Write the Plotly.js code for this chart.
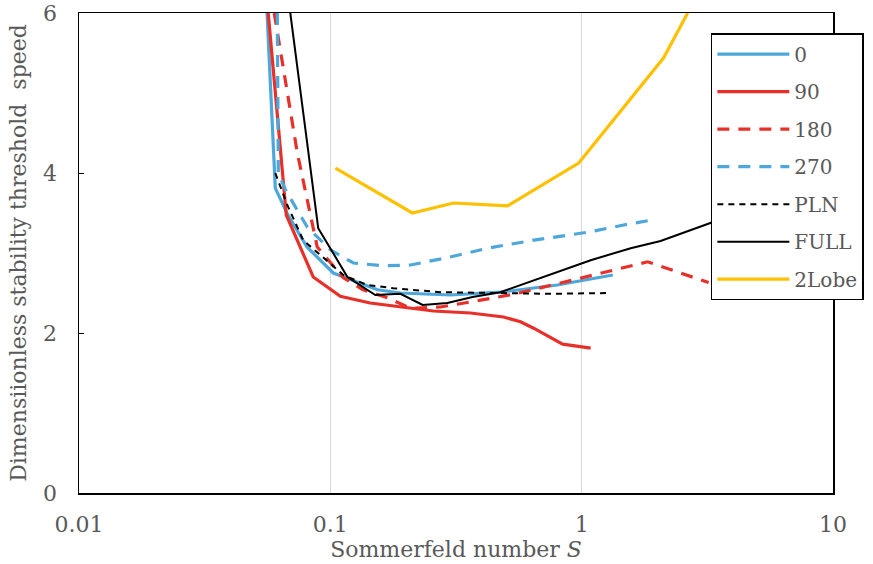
<!DOCTYPE html>
<html>
<head>
<meta charset="utf-8">
<script src="https://cdn.plot.ly/plotly-3.0.1.min.js"></script>
<style>html,body{margin:0;padding:0;background:#fff;}#chart{width:873px;height:564px;}</style>
</head>
<body>
<div id="chart"></div>
<script>
// Series names
var seriesNames = ["0", "90", "180", "270", "PLN", "FULL", "2Lobe"];

// Series "0"
var s0_x = [0.056, 0.0604, 0.0672, 0.0807, 0.1028, 0.132, 0.154, 0.19, 0.30, 0.475, 0.80, 1.33];
var s0_y = [6.0, 3.81, 3.5, 3.075, 2.75, 2.625, 2.54, 2.5, 2.475, 2.51, 2.6, 2.725];

// Series "90"
var s90_x = [0.0566, 0.0668, 0.0855, 0.1096, 0.144, 0.19, 0.257, 0.361, 0.489, 0.571, 0.644, 0.84, 1.086];
var s90_y = [6.0, 3.475, 2.7, 2.46, 2.375, 2.325, 2.275, 2.25, 2.2, 2.14, 2.06, 1.86, 1.81];

// Series "180"
var s180_x = [0.0598, 0.0739, 0.0887, 0.1127, 0.135, 0.1686, 0.2085, 0.274, 0.396, 0.546, 0.824, 1.457, 1.83, 3.2];
var s180_y = [6.0, 4.25, 3.075, 2.69, 2.54, 2.44, 2.31, 2.325, 2.41, 2.49, 2.625, 2.81, 2.89, 2.63];

// Series "270"
var s270_x = [0.0615, 0.0621, 0.0663, 0.0809, 0.1, 0.1236, 0.1626, 0.2085, 0.30, 0.4217, 0.644, 1.057, 1.47, 1.88];
var s270_y = [6.0, 4.0, 3.79, 3.325, 3.04, 2.875, 2.84, 2.85, 2.95, 3.06, 3.16, 3.26, 3.35, 3.41];

// Series "PLN"
var sPLN_x = [0.0604, 0.0674, 0.078, 0.0929, 0.1127, 0.140, 0.178, 0.274, 0.42, 0.751, 1.305];
var sPLN_y = [4.0, 3.6, 3.16, 2.95, 2.725, 2.6, 2.56, 2.51, 2.5, 2.49, 2.5];

// Series "FULL"
var sFULL_x = [0.0693, 0.0895, 0.117, 0.151, 0.19, 0.233, 0.292, 0.368, 0.475, 0.644, 0.879, 1.086, 1.567, 2.06, 3.42];
var sFULL_y = [6.0, 3.31, 2.7, 2.475, 2.49, 2.35, 2.375, 2.45, 2.51, 2.66, 2.81, 2.91, 3.06, 3.15, 3.4];

// Series "2Lobe"
var s2L_x = [0.1048, 0.212, 0.309, 0.507, 0.973, 2.12, 2.64];
var s2L_y = [4.06, 3.5, 3.625, 3.59, 4.125, 5.44, 6.0];

// Axis ticks
var xTickVals = [0.01, 0.1, 1, 10];
var xTickText = ["0.01", "0.1", "1", "10"];
var yTickVals = [0, 2, 4, 6];
var yTickText = ["0", "2", "4", "6"];

var BLUE = "#4DA7DA", RED = "#E8302A", YEL = "#FFC000", BLK = "#000000";
var FONT = "'DejaVu Serif', serif";
var TXT = "#595959";

function tr(name, x, y, color, width, dash) {
  return {
    type: "scatter", mode: "lines", name: name, x: x, y: y,
    legendgroup: name,
    line: {color: color, width: width, dash: dash}
  };
}

var data = [
  tr(seriesNames[0], s0_x, s0_y, BLUE, 3.2, "solid"),
  tr(seriesNames[1], s90_x, s90_y, RED, 3.2, "solid"),
  tr(seriesNames[2], s180_x, s180_y, RED, 3.2, "12px,9px"),
  tr(seriesNames[3], s270_x, s270_y, BLUE, 3.2, "12px,9px"),
  tr(seriesNames[4], sPLN_x, sPLN_y, BLK, 2, "6px,5px"),
  tr(seriesNames[5], sFULL_x, sFULL_y, BLK, 2, "solid"),
  tr(seriesNames[6], s2L_x, s2L_y, YEL, 3.2, "solid")
];

var layout = {
  width: 873, height: 564,
  margin: {l: 79, r: 40, t: 13, b: 71, pad: 0, autoexpand: false},
  paper_bgcolor: "#ffffff", plot_bgcolor: "#ffffff",
  font: {family: FONT, size: 21, color: TXT},
  showlegend: true,
  legend: {
    x: 0.838, y: 0.958, xanchor: "left", yanchor: "top",
    bgcolor: "#ffffff", bordercolor: "#000000", borderwidth: 1.5,
    font: {family: FONT, size: 20, color: TXT},
    tracegroupgap: 8.5, itemwidth: 72
  },
  xaxis: {
    type: "log", range: [-2, 1],
    tickvals: xTickVals, ticktext: xTickText,
    showgrid: true, gridcolor: "#D9D9D9", gridwidth: 1,
    ticks: "", showline: true, linecolor: "#000000", linewidth: 1.5, mirror: true,
    zeroline: false, ticklabelstandoff: 11,
    tickfont: {family: FONT, size: 22, color: TXT},
    title: {text: "Sommerfeld number <i>S</i>", standoff: 2, font: {family: FONT, size: 22, color: TXT}}
  },
  yaxis: {
    range: [0, 6],
    tickvals: yTickVals, ticktext: yTickText,
    showgrid: false, zeroline: false,
    ticks: "inside", ticklen: 5, tickcolor: "#000000", tickwidth: 1,
    showline: true, linecolor: "#000000", linewidth: 1.5, mirror: true,
    ticklabelstandoff: 16,
    tickfont: {family: FONT, size: 22, color: TXT},
    title: {text: "Dimensiionless stability threshold\u00a0 speed", standoff: 10, font: {family: FONT, size: 22, color: TXT}}
  }
};

Plotly.newPlot("chart", data, layout, {displayModeBar: false, staticPlot: true});
</script>
</body>
</html>
